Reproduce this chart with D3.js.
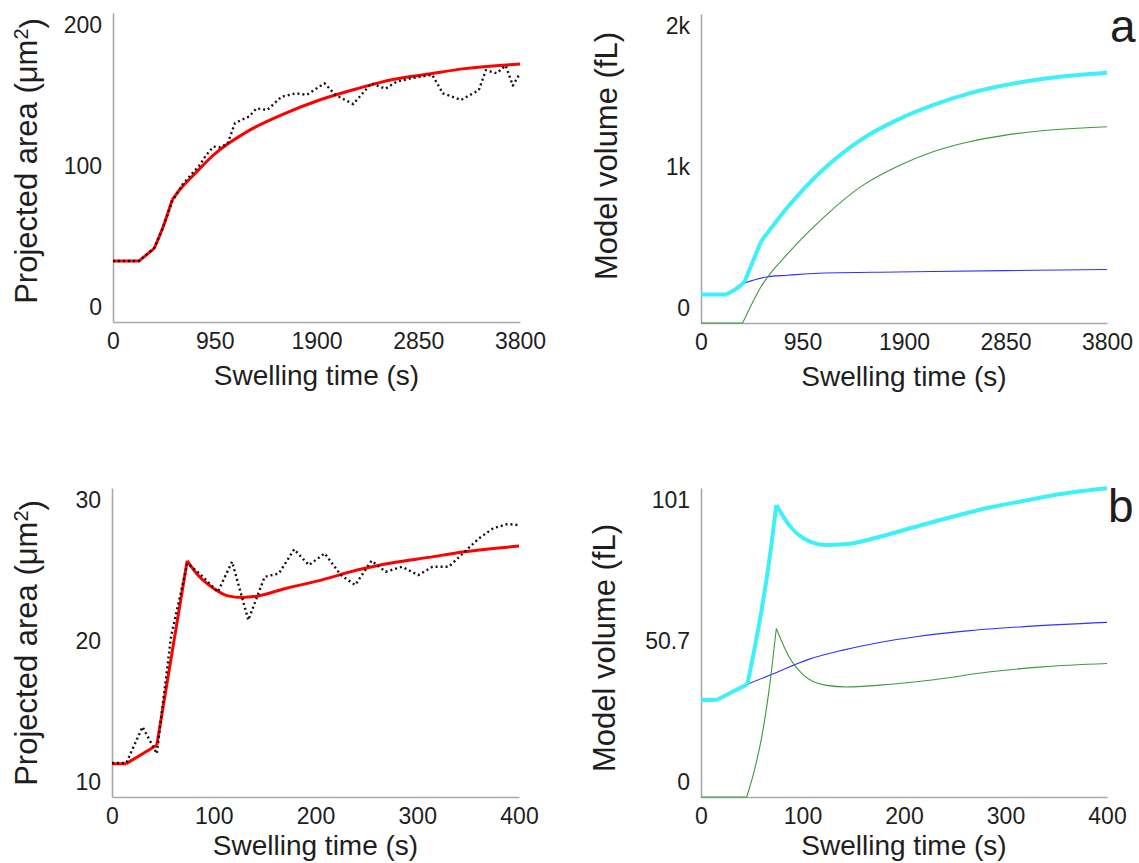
<!DOCTYPE html>
<html>
<head>
<meta charset="utf-8">
<script src="https://cdn.jsdelivr.net/npm/d3@7"></script>
<style>
body { margin: 0; background: #fff; }
text { font-family: "Liberation Sans", Arial, sans-serif; fill: #1e1e1e; }
</style>
</head>
<body>
<svg id="chart" width="1139" height="863"></svg>
<script>
// ---- row a: swelling over 3800 s ----
// measured projected area (dotted), [time s, area um2]
const areaDataA = [[0,39.5],[244,39.5],[385,48],[460,60],[552,78],[650,89],[737,96],[803,101],[870,108],[937,113.5],[1005,113],[1071,115.7],[1138,128.6],[1205,131],[1272,133],[1339,138.3],[1440,137.2],[1573,145.8],[1708,148],[1808,147],[1975,154.5],[2076,147],[2243,141],[2411,154.5],[2545,151],[2645,155.5],[2800,158],[2980,160],[3080,148],[3248,143.7],[3415,150],[3482,163],[3583,161],[3666,166],[3733,153],[3800,161]];
// model fit of the area (red)
const areaFitA = [[0,39.5],[244,39.5],[385,47.7],[470,62],[552,79],[640,87],[737,94],[937,108],[1272,124],[1607,135],[1942,144],[2277,151],[2612,157],[2946,160.5],[3281,164],[3800,167]];
const kinksFitA = [244, 385, 552];
// model volumes, fL
const totalVolA = [[0,184],[237,184],[373,244],[407,266],[560,525],[814,752],[1154,1000],[1493,1184],[1832,1313],[2171,1410],[2511,1486],[2850,1540],[3189,1579],[3529,1605],[3800,1620]];
const kinksTotalA = [237, 407, 560];
const cellVolA = [[0,184],[237,184],[373,244],[407,259],[611,298],[814,309],[1154,324],[1832,330],[2850,339],[3800,346]];
const kinksCellA = [237, 407];
const extraVolA = [[0,0],[390,0],[560,233],[814,450],[1154,687],[1493,881],[1832,1011],[2171,1108],[2511,1173],[2850,1216],[3189,1244],[3800,1270]];
const kinksExtraA = [390];

// ---- row b: swelling over 400 s ----
const areaDataB = [[0,12.2],[14,12.2],[30,14.54],[44,12.81],[58,20.37],[74,25.12],[86,24.47],[104,23.28],[118,25.23],[134,21.45],[150,24.25],[164,24.47],[179,26.03],[193.5,25.01],[209,25.77],[225,24.36],[239,23.72],[255,25.29],[269,24.58],[285,24.9],[301,24.36],[315,24.9],[331,24.9],[346.5,25.87],[360.6,26.74],[374.6,27.39],[388.7,27.67],[400,27.6]];
const areaFitB = [[0,12.16],[14,12.16],[44,13.35],[73.9,25.29],[86,24.25],[100,23.5],[114,23.02],[128,22.92],[142.5,23.0],[170.6,23.5],[205.8,24.04],[241,24.69],[276,25.16],[311,25.51],[346.5,25.87],[400,26.24]];
const kinksFitB = [14, 44, 73.9];
const totalVolB = [[0,31.8],[15.3,31.8],[45.7,37],[60,62],[67,77],[74.2,95.8],[86.7,89.3],[101,84.9],[122.4,82.7],[143.8,83],[176,85.4],[211.6,88.7],[247,91.9],[283,94.9],[318.6,97.2],[354.3,99.4],[400,101.3]];
const kinksTotalB = [15.3, 45.7, 74.2];
const cellVolB = [[0,31.8],[15.3,31.8],[45.7,37],[72.4,40.6],[104.6,45],[140,48.2],[176,50.7],[211.6,52.6],[265,54.6],[318.6,55.9],[400,57.3]];
const kinksCellB = [15.3, 45.7];
const extraVolB = [[0,0],[45,0],[52,8],[60,20],[67,35],[74.2,55.3],[86.7,46],[101,40],[122.4,36.7],[143.8,36.1],[176,36.7],[229.4,38.5],[283,41],[336.4,42.7],[400,43.8]];
const kinksExtraB = [45, 74.2];

// ticks
const xTicksA = [0, 950, 1900, 2850, 3800];
const xTicksB = [0, 100, 200, 300, 400];
const yTicksAreaA = [0, 100, 200];
const yLabelsAreaA = ["0", "100", "200"];
const yTicksVolA = [0, 1000, 2000];
const yLabelsVolA = ["0", "1k", "2k"];
const yTicksAreaB = [10, 20, 30];
const yLabelsAreaB = ["10", "20", "30"];
const yTicksVolB = [0, 50.7, 101.4];
const yLabelsVolB = ["0", "50.7", "101"];

const svg = d3.select("#chart");

// cut a series at its corner points so each piece can be smoothed on its own
function splitAt(data, kinks) {
    if (!kinks) return [data];
    var pieces = [], cur = [];
    data.forEach(function(d) {
        cur.push(d);
        if (kinks.indexOf(d[0]) >= 0 && cur.length > 1) {
            pieces.push(cur);
            cur = [d];
        }
    });
    if (cur.length > 1) pieces.push(cur);
    return pieces;
}

function drawPanel(p) {
    var x = d3.scaleLinear().domain(p.xDomain).range([p.left, p.right]);
    var y = d3.scaleLinear().domain(p.yDomain).range([p.bottom, p.top]);

    var g = svg.append("g");

    // x axis
    var xAxis = g.append("g")
        .attr("transform", "translate(0," + p.bottom + ")")
        .call(d3.axisBottom(x).tickValues(p.xTicks).tickFormat(function(d) { return d; })
            .tickSize(0).tickSizeOuter(0).tickPadding(11));
    // y axis
    var yAxis = g.append("g")
        .attr("transform", "translate(" + p.left + ",0)")
        .call(d3.axisLeft(y).tickValues(p.yTicks).tickFormat(function(d, i) { return p.yLabels[i]; })
            .tickSize(0).tickSizeOuter(0).tickPadding(11));

    // end labels sit inside the axis span
    yAxis.selectAll(".tick text").attr("y", function(d, i) {
        if (i === 0) return -15;
        if (i === p.yTicks.length - 1) return 12;
        return -1;
    });

    [xAxis, yAxis].forEach(function(a) {
        a.select(".domain").attr("stroke", "#a8a8a8").attr("stroke-width", 1.6);
        a.selectAll(".tick text").style("font-size", "23px").attr("fill", "#1e1e1e")
            .style("font-family", '"Liberation Sans", Arial, sans-serif');
    });

    var smoothLine = d3.line()
        .x(function(d) { return x(d[0]); })
        .y(function(d) { return y(d[1]); })
        .curve(d3.curveMonotoneX);
    var straightLine = d3.line()
        .x(function(d) { return x(d[0]); })
        .y(function(d) { return y(d[1]); });

    p.series.forEach(function(s) {
        var d = s.smooth
            ? splitAt(s.data, s.kinks).map(function(piece) { return smoothLine(piece); }).join("")
            : straightLine(s.data);
        g.append("path")
            .attr("fill", "none")
            .attr("stroke", s.color)
            .attr("stroke-width", s.width)
            .attr("stroke-dasharray", s.dash || null)
            .attr("stroke-linejoin", "round")
            .attr("d", d);
    });

    // x title
    g.append("text")
        .attr("x", (p.left + p.right) / 2)
        .attr("y", p.xTitleY)
        .attr("text-anchor", "middle")
        .style("font-size", "28px")
        .text("Swelling time (s)");

    // y title
    var yt = g.append("text")
        .attr("transform", "translate(" + p.yTitleX + "," + p.yTitleY + ") rotate(-90)")
        .attr("text-anchor", "middle")
        .style("font-size", "31px");
    yt.append("tspan").text(p.yTitle);
    if (p.sup) {
        yt.append("tspan").attr("dy", "-0.45em").style("font-size", "20px").text("2");
        yt.append("tspan").attr("dy", "0.45em").text(")");
    }

    if (p.letter) {
        g.append("text")
            .attr("x", p.letterX)
            .attr("y", p.letterY)
            .style("font-size", "46px")
            .text(p.letter);
    }
}

// top left: projected area, long run
drawPanel({
    left: 113, right: 520, top: 13, bottom: 322,
    xDomain: [0, 3800], yDomain: [0, 200],
    xTicks: xTicksA, yTicks: yTicksAreaA, yLabels: yLabelsAreaA,
    yTitle: "Projected area (\u03bcm", sup: true, yTitleX: 37, yTitleY: 161,
    xTitleY: 385,
    series: [
        { data: areaFitA, kinks: kinksFitA, color: "#ff0000", width: 3, smooth: true },
        { data: areaDataA, color: "#111", width: 2.4, dash: "2,3" }
    ]
});

// top right: model volumes, long run
drawPanel({
    left: 701, right: 1107, top: 14, bottom: 323,
    xDomain: [0, 3800], yDomain: [0, 2000],
    xTicks: xTicksA, yTicks: yTicksVolA, yLabels: yLabelsVolA,
    yTitle: "Model volume (fL)", yTitleX: 617, yTitleY: 156,
    xTitleY: 386,
    letter: "a", letterX: 1110, letterY: 42,
    series: [
        { data: cellVolA, kinks: kinksCellA, color: "#3030ff", width: 1.1, smooth: true },
        { data: extraVolA, kinks: kinksExtraA, color: "#3c9a3c", width: 1.1, smooth: true },
        { data: totalVolA, kinks: kinksTotalA, color: "#3ef0f8", width: 4, smooth: true }
    ]
});

// bottom left: projected area, short run
drawPanel({
    left: 112, right: 519, top: 488, bottom: 797,
    xDomain: [0, 400], yDomain: [10, 30],
    xTicks: xTicksB, yTicks: yTicksAreaB, yLabels: yLabelsAreaB,
    yTitle: "Projected area (\u03bcm", sup: true, yTitleX: 37, yTitleY: 643,
    xTitleY: 855,
    series: [
        { data: areaFitB, kinks: kinksFitB, color: "#ff0000", width: 3, smooth: true },
        { data: areaDataB, color: "#111", width: 2.4, dash: "2,3" }
    ]
});

// bottom right: model volumes, short run
drawPanel({
    left: 701, right: 1107, top: 488, bottom: 797,
    xDomain: [0, 400], yDomain: [0, 101.4],
    xTicks: xTicksB, yTicks: yTicksVolB, yLabels: yLabelsVolB,
    yTitle: "Model volume (fL)", yTitleX: 615, yTitleY: 648,
    xTitleY: 855,
    letter: "b", letterX: 1108, letterY: 522,
    series: [
        { data: cellVolB, kinks: kinksCellB, color: "#3030ff", width: 1.1, smooth: true },
        { data: extraVolB, kinks: kinksExtraB, color: "#3c9a3c", width: 1.1, smooth: true },
        { data: totalVolB, kinks: kinksTotalB, color: "#3ef0f8", width: 4, smooth: true }
    ]
});
</script>
</body>
</html>
